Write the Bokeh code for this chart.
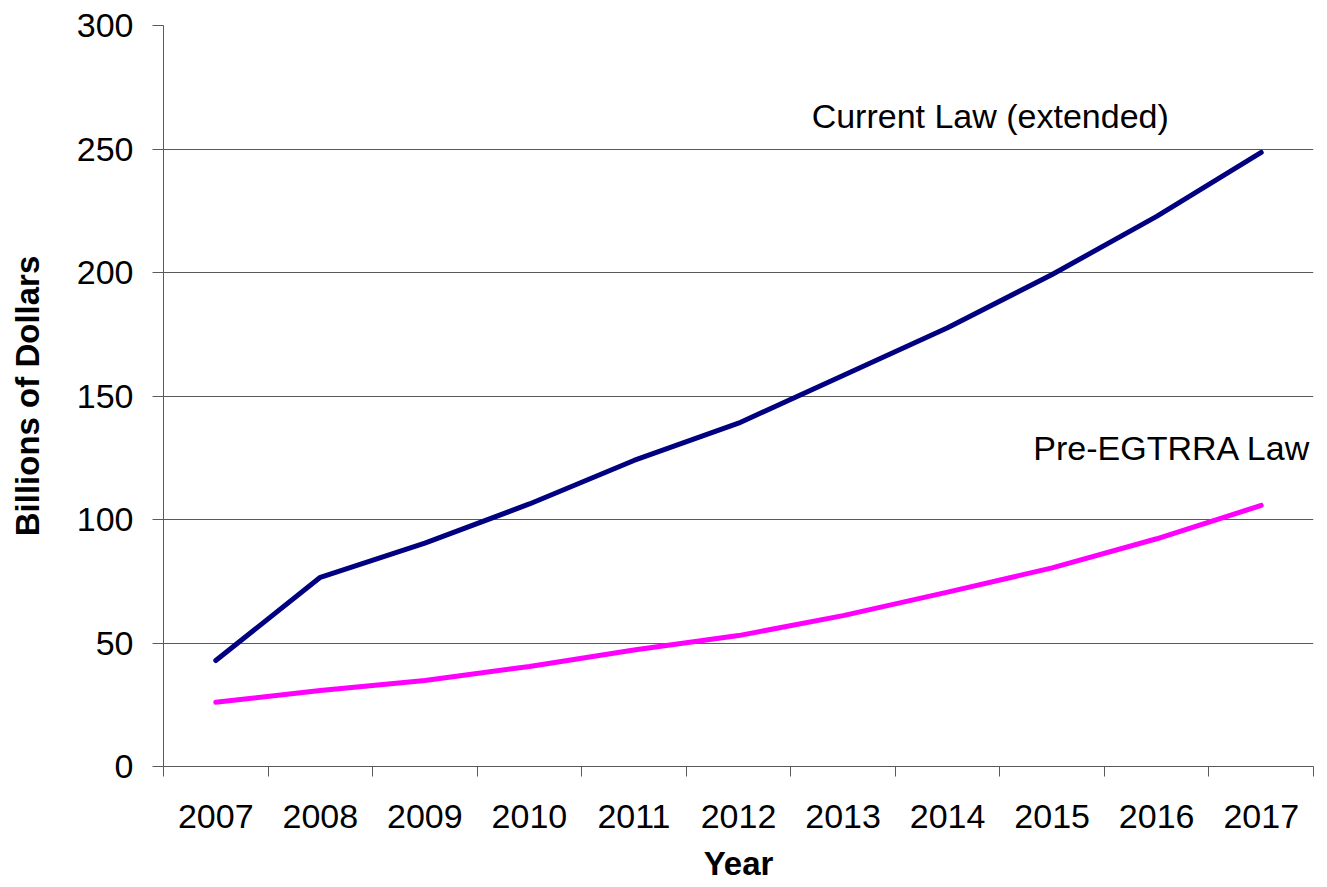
from bokeh.plotting import figure
from bokeh.models import Range1d, FixedTicker, Label
from bokeh.embed import file_html
from bokeh.resources import INLINE

# ---- data ----
years = [2007, 2008, 2009, 2010, 2011, 2012, 2013, 2014, 2015, 2016, 2017]
year_labels = [str(y) for y in years]
current_law = [42.9, 76.6, 90.4, 106.3, 123.9, 139.0, 158.3, 177.6, 199.2, 222.7, 248.6]
pre_egtrra = [26.0, 30.8, 34.8, 40.5, 47.2, 53.0, 61.1, 70.6, 80.4, 92.2, 105.7]
y_ticks = [0, 50, 100, 150, 200, 250, 300]
series_labels = ["Current Law (extended)", "Pre-EGTRRA Law"]
x_title = "Year"
y_title = "Billions of Dollars"

FONT = "Liberation Sans"
AXIS_GRAY = "#5a5a5a"

p = figure(
    width=1325, height=887,
    x_range=Range1d(years[0] - 0.5, years[-1] + 0.5),
    y_range=Range1d(y_ticks[0], y_ticks[-1]),
    output_backend="svg", toolbar_location=None,
    min_border_left=163, min_border_right=12,
    min_border_top=25, min_border_bottom=121,
)
p.outline_line_color = None
p.background_fill_color = "white"
p.border_fill_color = "white"

# y axis
yt = FixedTicker(ticks=y_ticks)
p.yaxis.ticker = yt
p.yaxis.axis_line_color = AXIS_GRAY
p.yaxis.major_tick_line_color = AXIS_GRAY
p.yaxis.major_tick_out = 11
p.yaxis.major_tick_in = 0
p.yaxis.minor_tick_line_color = None
p.yaxis.major_label_standoff = 19
p.yaxis.major_label_text_font = FONT
p.yaxis.major_label_text_font_size = "34px"
p.yaxis.major_label_text_color = "black"
p.yaxis.axis_label = y_title
p.yaxis.axis_label_text_font = FONT
p.yaxis.axis_label_text_font_size = "33px"
p.yaxis.axis_label_text_font_style = "bold"
p.yaxis.axis_label_text_color = "black"
p.yaxis.axis_label_standoff = 28

# x axis: labels at category centres, tick marks at category boundaries
boundaries = [y - 0.5 for y in years] + [years[-1] + 0.5]
xt = FixedTicker(ticks=years, minor_ticks=boundaries)
p.xaxis.ticker = xt
p.xaxis.major_label_overrides = {y: lab for y, lab in zip(years, year_labels)}
p.xaxis.axis_line_color = AXIS_GRAY
p.xaxis.major_tick_line_color = None
p.xaxis.major_tick_out = 0
p.xaxis.major_tick_in = 0
p.xaxis.minor_tick_line_color = AXIS_GRAY
p.xaxis.minor_tick_out = 10
p.xaxis.minor_tick_in = 0
p.xaxis.major_label_standoff = 28
p.xaxis.major_label_text_font = FONT
p.xaxis.major_label_text_font_size = "34px"
p.xaxis.major_label_text_color = "black"
p.xaxis.axis_label = x_title
p.xaxis.axis_label_text_font = FONT
p.xaxis.axis_label_text_font_size = "33px"
p.xaxis.axis_label_text_font_style = "bold"
p.xaxis.axis_label_text_color = "black"
p.xaxis.axis_label_standoff = 14

# grid
p.xgrid.visible = False
p.ygrid.ticker = yt
p.ygrid.grid_line_color = AXIS_GRAY
p.ygrid.grid_line_width = 1

# lines
p.line(years, current_law, line_color="#000080", line_width=5,
       line_cap="round", line_join="round")
p.line(years, pre_egtrra, line_color="#FF00FF", line_width=5,
       line_cap="round", line_join="round")

# series annotations
p.add_layout(Label(x=years[-1], y=current_law[-1], text=series_labels[0],
                   x_offset=-271, y_offset=36, text_align="center",
                   text_baseline="alphabetic", text_font=FONT,
                   text_font_size="34px", text_color="black"))
p.add_layout(Label(x=years[-1], y=pre_egtrra[-1], text=series_labels[1],
                   x_offset=-89, y_offset=57, text_align="center",
                   text_baseline="alphabetic", text_font=FONT,
                   text_font_size="34px", text_color="black"))

open("out.html", "w").write(file_html(p, INLINE))
